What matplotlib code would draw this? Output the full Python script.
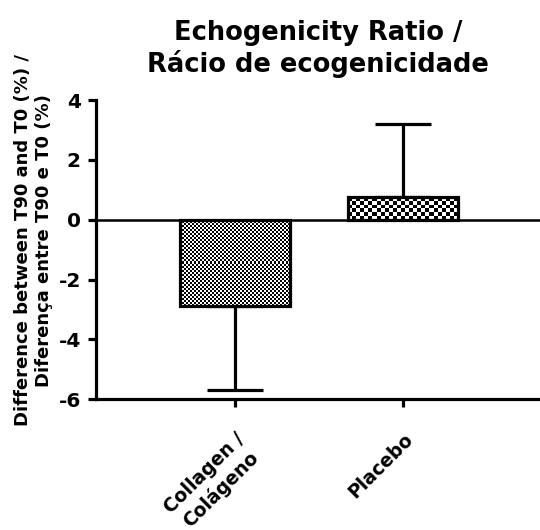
import numpy as np
import matplotlib
matplotlib.use("Agg")
import matplotlib.pyplot as plt

plt.rcParams['font.family'] = ['DejaVu Sans']
plt.rcParams['font.weight'] = 'bold'
plt.rcParams['axes.titleweight'] = 'bold'
plt.rcParams['axes.labelweight'] = 'bold'
plt.rcParams['axes.unicode_minus'] = False

groups = ["Collagen /\nColágeno", "Placebo"]
means = [-2.9, 0.75]
errs = [2.8, 2.45]
checker_px = [2, 4]   # size of one checker square, in pixels

fig = plt.figure(figsize=(5.4, 5.3), dpi=100)
ax = fig.add_axes([0.178, 0.247, 0.822, 0.564])

x = np.arange(len(groups))
width = 0.65
bars = ax.bar(x, means, width, facecolor='none', edgecolor='black', linewidth=2.3, zorder=3)

ax.set_xlim(-0.827, 1.815)
ax.set_ylim(-6, 4)
fig.canvas.draw()

# checkerboard fill under each bar outline
for bar, cell in zip(bars, checker_px):
    bb = bar.get_window_extent()
    nx = max(1, int(round(bb.width / cell)))
    ny = max(1, int(round(bb.height / cell)))
    board = (np.add.outer(np.arange(ny), np.arange(nx)) % 2).astype(float)
    x0, y0 = bar.get_x(), bar.get_y()
    ax.imshow(board, cmap='gray', vmin=0, vmax=1,
              extent=[x0, x0 + bar.get_width(), y0, y0 + bar.get_height()],
              interpolation='nearest', aspect='auto', zorder=2)

# one-sided error bars
for xi, m, e in zip(x, means, errs):
    yerr = [[e], [0]] if m < 0 else [[0], [e]]
    ax.errorbar(xi, m, yerr=yerr, fmt='none', ecolor='black', elinewidth=2.3,
                capsize=20, capthick=2.3, zorder=1)

ax.axhline(0, color='black', linewidth=1.8, zorder=4)

ax.set_xlim(-0.827, 1.815)
ax.set_ylim(-6, 4)
ax.set_yticks([-6, -4, -2, 0, 2, 4])
ax.set_xticks(x)
ax.set_xticklabels(groups, rotation=45, ha='right', rotation_mode='anchor',
                   multialignment='center', fontsize=13.5)
ax.tick_params(axis='y', labelsize=14.5, width=2.3, length=6, pad=5)
ax.tick_params(axis='x', width=2.3, length=6, pad=16)
for s in ['top', 'right']:
    ax.spines[s].set_visible(False)
for s in ['left', 'bottom']:
    ax.spines[s].set_linewidth(2.3)

ax.set_ylabel("Difference between T90 and T0 (%) /\nDiferença entre T90 e T0 (%)", fontsize=13,
              labelpad=4, y=0.532)
ax.set_title("Echogenicity Ratio /\nRácio de ecogenicidade", fontsize=18.5, pad=20)

fig.savefig("out.png", dpi=100)
